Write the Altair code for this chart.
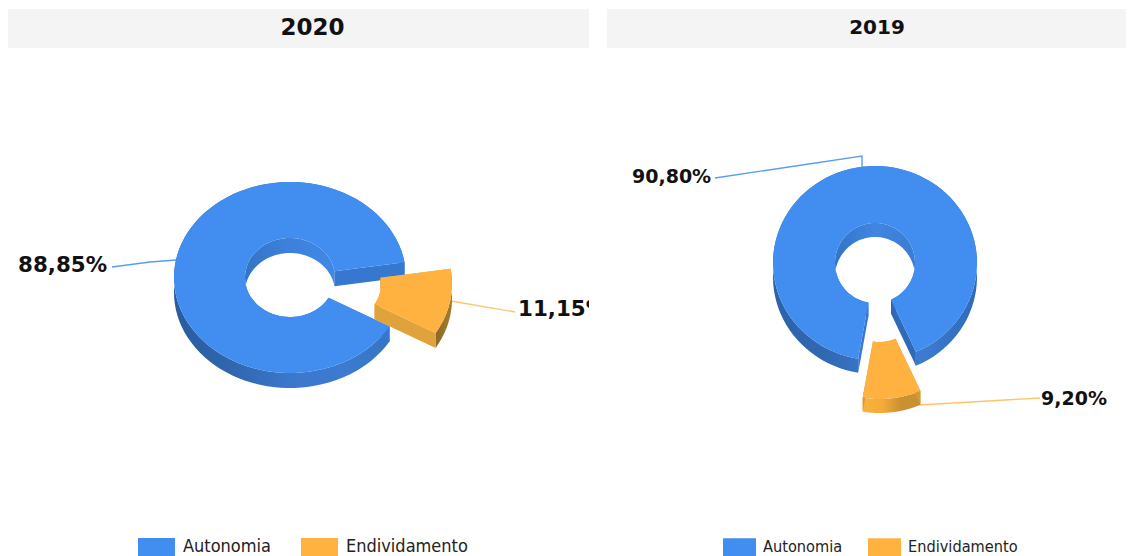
import math
import altair as alt
import pandas as pd

SERIES = ["Autonomia", "Endividamento"]
YEARS = ["2020", "2019"]
VALUES_2020 = [88.85, 11.15]
VALUES_2019 = [90.80, 9.20]
BLUE = "#418DF0"
ORANGE = "#FFB23F"
LABEL_FONT = "DejaVu Sans"
LEGEND_FONT = "DejaVu Sans Condensed"


def grad(*stops):
    n = len(stops) - 1
    return alt.LinearGradient(
        gradient="linear", x1=0, x2=1, y1=0, y2=0,
        stops=[alt.GradientStop(offset=i / n, color=c) for i, c in enumerate(stops)],
    )


def arc(c, rx, ry, a0, a1, dy=0.0, n=90):
    return [
        (c[0] + rx * math.cos(math.radians(a0 + (a1 - a0) * i / n)),
         c[1] - ry * math.sin(math.radians(a0 + (a1 - a0) * i / n)) + dy)
        for i in range(n + 1)
    ]


def band(pts, depth):
    return pts + [(x, y + depth) for x, y in reversed(pts)]


def polygons(values, start, geo):
    rows = []
    a = start
    for name, v in zip(SERIES, values):
        sweep = v / 100 * 360
        ox, oy = geo["explode"][name]
        c = (geo["c"][0] + ox, geo["c"][1] + oy)
        d = geo["depth"]
        outer = arc(c, geo["rx"], geo["ry"], a, a - sweep)
        inner = arc(c, geo["irx"], geo["iry"], a, a - sweep)
        parts = {
            "top": outer + inner[::-1],
            "outer": band(outer, d),
            "inner": band(inner, d),
            "cutA": band([inner[0], outer[0]], d),
            "cutB": band([inner[-1], outer[-1]], d),
        }
        for part, pts in parts.items():
            for i, (x, y) in enumerate(pts):
                rows.append({"serie": name, "part": part, "key": name + part, "i": i, "x": x, "y": y})
        a -= sweep
    return pd.DataFrame(rows)


def panel(year, values, start, geo, x0, x1, style, leaders, labels, title_size, label_size, legend):
    xs = alt.Scale(domain=[x0, x1], nice=False, zero=False)
    ys = alt.Scale(domain=[556, 8], nice=False, zero=False)
    X = alt.X("x:Q", scale=xs, axis=None)
    Y = alt.Y("y:Q", scale=ys, axis=None)
    df = polygons(values, start, geo)

    def layer(fill, serie, part):
        return (
            alt.Chart(df)
            .transform_filter(alt.datum.key == serie + part)
            .mark_line(fill=fill, strokeWidth=0, strokeOpacity=0, interpolate="linear-closed")
            .encode(x=X, y=Y, order="i:Q")
        )

    bar = alt.Chart(pd.DataFrame([{"x": x0, "x2": x1, "y": 9, "y2": 48}])).mark_rect(color="#F4F4F4").encode(
        x=X, x2="x2:Q", y=Y, y2="y2:Q"
    )
    title = alt.Chart(pd.DataFrame([{"x": (geo["title_x"]), "y": 28, "t": year}])).mark_text(
        font=LABEL_FONT, fontSize=title_size, fontWeight="bold", color="#111111"
    ).encode(x=X, y=Y, text="t:N")
    lead = [
        alt.Chart(pd.DataFrame(pts)).mark_line(color=col, strokeWidth=1.4).encode(x=X, y=Y, order="i:Q")
        for pts, col in leaders
    ]
    walls = []
    for serie in SERIES:
        for part in ["outer", "inner", "cutA", "cutB"]:
            walls.append(layer(style[serie][part], serie, part))
    top = (
        alt.Chart(df)
        .transform_filter(alt.datum.part == "top")
        .mark_line(strokeWidth=0, strokeOpacity=0, interpolate="linear-closed")
        .encode(
            x=X, y=Y, order="i:Q", detail="key:N",
            fill=alt.Fill("serie:N", scale=alt.Scale(domain=SERIES, range=[BLUE, ORANGE]), legend=legend),
        )
    )
    text = alt.Chart(pd.DataFrame(labels)).mark_text(
        font=LABEL_FONT, fontSize=label_size, fontWeight="bold", color="#111111", align="left", clip=True
    ).encode(x=X, y=Y, text="t:N")
    return alt.layer(bar, title, *lead, *walls, top, text).properties(width=x1 - x0, height=548)


def pct(v):
    return f"{v:.2f}%".replace(".", ",")


def legend(x, y, symbol, size, font, pad, off):
    return alt.Legend(
        title=None, orient="none", legendX=x, legendY=y, direction="horizontal", columns=2,
        symbolType=symbol, symbolSize=size, symbolStrokeWidth=0, labelFont=LEGEND_FONT, labelFontSize=font,
        labelColor="#222222", labelOffset=off, columnPadding=pad, padding=0, labelLimit=300,
    )


geo20 = dict(c=(290, 277.5), rx=116, ry=95.5, irx=45, iry=39.5, depth=15, title_x=312.5,
             explode={"Autonomia": (0, 0), "Endividamento": (46, 6.5)})
geo19 = dict(c=(875, 263), rx=102, ry=97, irx=40, iry=40, depth=14, title_x=877,
             explode={"Autonomia": (0, 0), "Endividamento": (4.5, 39)})

style20 = {
    "Autonomia": {"outer": grad("#2A5C9E", "#2F66AE", "#3A78CC", "#3B7BD0", "#3470BE"),
                  "inner": grad("#3573C6", "#3C82DC", "#4187E6"), "cutA": "#3677CF", "cutB": "#3677CF"},
    "Endividamento": {"outer": grad("#8A6A28", "#A67C2C"), "inner": "#E0A23A", "cutA": "#E0A23A", "cutB": "#E0A23A"},
}
style19 = {
    "Autonomia": {"outer": grad("#2C62A8", "#3068B2", "#3A7ACE", "#3B7BD0", "#2F69B8"),
                  "inner": grad("#3573C6", "#3F86E2", "#3A7CD4"), "cutA": "#3677CF", "cutB": "#2F69B8"},
    "Endividamento": {"outer": grad("#FBB03C", "#F5AB3A", "#C9912F", "#C9912F"), "inner": "#E0A23A",
                      "cutA": "#D29A33", "cutB": "#D29A33"},
}

leaders20 = [
    ([{"i": 0, "x": 112, "y": 267}, {"i": 1, "x": 150, "y": 262}, {"i": 2, "x": 176, "y": 260}], "#5A9CF2"),
    ([{"i": 0, "x": 451, "y": 301}, {"i": 1, "x": 515, "y": 312}], "#FFC46B"),
]
leaders19 = [
    ([{"i": 0, "x": 715, "y": 178}, {"i": 1, "x": 862, "y": 156}, {"i": 2, "x": 862, "y": 168}], "#5A9CF2"),
    ([{"i": 0, "x": 919, "y": 405}, {"i": 1, "x": 1040, "y": 398}], "#FFC46B"),
]
labels20 = [{"x": 18, "y": 266, "t": pct(VALUES_2020[0])}, {"x": 518, "y": 310, "t": pct(VALUES_2020[1])}]
labels19 = [{"x": 632, "y": 177, "t": pct(VALUES_2019[0])}, {"x": 1041, "y": 399, "t": pct(VALUES_2019[1])}]

left = panel(YEARS[0], VALUES_2020, -30.9, geo20, 8, 589, style20, leaders20, labels20, 23, 21.4,
             legend(130, 520.5, "M-1,-0.5H1V0.5H-1Z", 1369, 18, 30, 8))
right = panel(YEARS[1], VALUES_2019, -99.5, geo19, 607, 1126, style19, leaders19, labels19, 20, 19,
              legend(116, 522.5, "M-1,-0.55H1V0.55H-1Z", 1089, 16.2, 25, 7))

chart = (
    alt.hconcat(left, right, spacing=18, padding=0)
    .resolve_scale(fill="independent")
    .resolve_legend(fill="independent")
    .configure_view(stroke=None)
)
chart.save("out.html", embed_options={"renderer": "svg", "actions": False})
